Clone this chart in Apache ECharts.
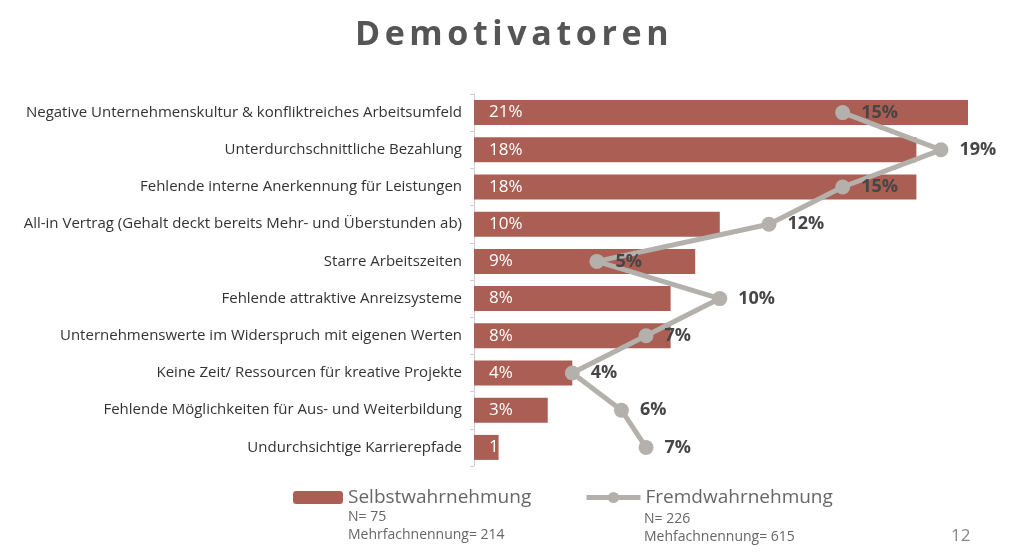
<!DOCTYPE html>
<html>
<head>
<meta charset="utf-8">
<script src="https://cdn.jsdelivr.net/npm/echarts@6/dist/echarts.min.js"></script>
<style>
html,body{margin:0;padding:0;background:#fff;}
#wrap{position:relative;width:1024px;height:557px;}
#title{position:absolute;left:0;top:9px;width:1024px;text-align:center;font-family:'Open Sans',sans-serif;font-weight:700;font-size:34px;letter-spacing:4.6px;color:#555;line-height:46px;padding-left:4px;box-sizing:border-box;}
#chart{position:absolute;left:0;top:0;width:1024px;height:557px;}
</style>
</head>
<body>
<div id="wrap">
<div id="chart"></div>
<div id="title">Demotivatoren</div>
</div>
<script>
const categories = [
  'Negative Unternehmenskultur & konfliktreiches Arbeitsumfeld',
  'Unterdurchschnittliche Bezahlung',
  'Fehlende interne Anerkennung für Leistungen',
  'All-in Vertrag (Gehalt deckt bereits Mehr- und Überstunden ab)',
  'Starre Arbeitszeiten',
  'Fehlende attraktive Anreizsysteme',
  'Unternehmenswerte im Widerspruch mit eigenen Werten',
  'Keine Zeit/ Ressourcen für kreative Projekte',
  'Fehlende Möglichkeiten für Aus- und Weiterbildung',
  'Undurchsichtige Karrierepfade'
];
const selbstValues = [21, 18, 18, 10, 9, 8, 8, 4, 3, 1];
const selbstLabels = ['21%', '18%', '18%', '10%', '9%', '8%', '8%', '4%', '3%', '1'];
const fremdValues = [15, 19, 15, 12, 5, 10, 7, 4, 6, 7];
const seriesNames = ['Selbstwahrnehmung', 'Fremdwahrnehmung'];
const selbstNotes = ['N= 75', 'Mehrfachnennung= 214'];
const fremdNotes = ['N= 226', 'Mehfachnennung= 615'];
const pageNumber = '12';

const FONT = 'Open Sans';
const LINE_COLOR = '#b4b0ac';
const chart = echarts.init(document.getElementById('chart'), null, {renderer: 'canvas'});
chart.setOption({
  animation: false,
  textStyle: {fontFamily: FONT},
  grid: {left: 474, right: 56, top: 94, height: 372, containLabel: false},
  legend: [
    {data: [seriesNames[0]], left: 293, top: 488, padding: 0, itemWidth: 50, itemHeight: 13, itemGap: 5,
     textStyle: {fontSize: 19, color: '#666', fontFamily: FONT}},
    {data: [{name: seriesNames[1], itemStyle: {color: LINE_COLOR}, lineStyle: {color: LINE_COLOR, width: 5}}],
     left: 584, top: 488, padding: 0, itemWidth: 54, itemHeight: 14,
     textStyle: {fontSize: 19, color: '#666', fontFamily: FONT}}
  ],
  xAxis: {type: 'value', min: 0, max: 20.1, show: false},
  yAxis: {
    type: 'category', data: categories, inverse: true,
    axisLine: {show: true, lineStyle: {color: '#d0d0d0', width: 1}},
    axisTick: {show: true, length: 4, lineStyle: {color: '#d0d0d0'}},
    axisLabel: {color: '#333', fontSize: 15, margin: 12, fontFamily: FONT}
  },
  series: [
    {
      name: seriesNames[0], type: 'bar', data: selbstValues, barWidth: 25, clip: true,
      itemStyle: {color: '#aa5e54'},
      label: {show: true, position: 'insideLeft', distance: 15, color: '#fff', fontSize: 17,
        fontFamily: FONT, formatter: p => selbstLabels[p.dataIndex]}
    },
    {
      name: seriesNames[1], type: 'line', data: fremdValues, symbol: 'circle', symbolSize: 15,
      lineStyle: {color: LINE_COLOR, width: 5},
      itemStyle: {color: LINE_COLOR},
      label: {show: true, position: 'right', distance: 11, color: '#464646', fontSize: 18,
        fontWeight: 'bold', fontFamily: FONT, formatter: '{c}%'},
      z: 3
    }
  ],
  graphic: [
    {type: 'text', left: 348, top: 510, style: {text: selbstNotes[0], fontSize: 14, fill: '#666', fontFamily: FONT}},
    {type: 'text', left: 348, top: 528, style: {text: selbstNotes[1], fontSize: 14, fill: '#666', fontFamily: FONT}},
    {type: 'text', left: 644, top: 512, style: {text: fremdNotes[0], fontSize: 14, fill: '#666', fontFamily: FONT}},
    {type: 'text', left: 644, top: 530, style: {text: fremdNotes[1], fontSize: 14, fill: '#666', fontFamily: FONT}},
    {type: 'text', left: 951, top: 528, style: {text: pageNumber, fontSize: 17, fill: '#888', fontFamily: FONT}}
  ]
});
</script>
</body>
</html>
